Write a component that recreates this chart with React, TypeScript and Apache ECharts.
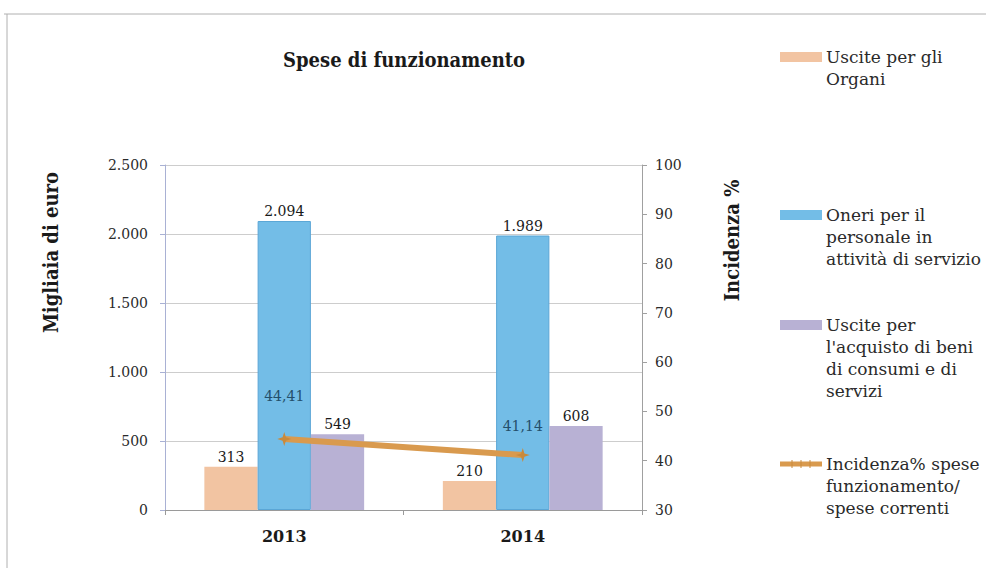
import React, { useEffect, useRef } from "react";
import * as echarts from "echarts";

const categories = ["2013", "2014"];
const uscitePerOrgani = [313, 210];
const oneriPersonale = [2094, 1989];
const usciteBeni = [549, 608];
const incidenza = [44.41, 41.14];

const seriesNames = [
  "Uscite per gli Organi",
  "Oneri per il personale in attività di servizio",
  "Uscite per l'acquisto di beni di consumi e di servizi",
  "Incidenza% spese funzionamento/ spese correnti",
];
const legendLines = [
  ["Uscite per gli", "Organi"],
  ["Oneri per il", "personale in", "attività di servizio"],
  ["Uscite per", "l'acquisto di beni", "di consumi e di", "servizi"],
  ["Incidenza% spese", "funzionamento/", "spese correnti"],
];
const legendIconY = [57, 215, 325, 464];
const seriesColors = ["#f2c4a2", "#73bde7", "#b8b1d4", "#d99a4e"];

const SERIF = "DejaVu Serif";
const COND = "DejaVu Serif Condensed";

const fmtThousands = (v: number) =>
  String(Math.round(v)).replace(/\B(?=(\d{3})+(?!\d))/g, ".");
const fmtDecimal = (v: number) => v.toFixed(2).replace(".", ",");

export default function App() {
  const ref = useRef<HTMLDivElement>(null);

  useEffect(() => {
    if (!ref.current) return;
    const chart = echarts.init(ref.current, undefined, { renderer: "svg" });

    const LH = 22;
    const legendGraphics: any[] = [];
    seriesNames.forEach((name, i) => {
      const y = legendIconY[i];
      if (i < 3) {
        legendGraphics.push({
          type: "rect",
          shape: { x: 780, y: y - 5, width: 42, height: 10 },
          style: { fill: seriesColors[i] },
        });
      } else {
        legendGraphics.push({
          type: "line",
          shape: { x1: 780, y1: y, x2: 822, y2: y },
          style: { stroke: seriesColors[i], lineWidth: 5 },
        });
        [792, 801, 810].forEach((x) =>
          legendGraphics.push({
            type: "line",
            shape: { x1: x, y1: y - 4, x2: x, y2: y + 4 },
            style: { stroke: "#c98a3c", lineWidth: 1 },
          })
        );
      }
      legendLines[i].forEach((line, k) => {
        legendGraphics.push({
          type: "text",
          x: 826,
          y: y + k * LH,
          style: {
            text: line,
            font: `17px "DejaVu Serif", serif`,
            fill: "#2a2a2a",
            verticalAlign: "middle",
            align: "left",
          },
        });
      });
    });

    const barLabel = {
      show: true,
      position: "top",
      distance: 3,
      color: "#1a1a1a",
      fontFamily: SERIF,
      fontSize: 14,
      formatter: (p: any) => fmtThousands(p.value),
    };

    const lineLabelDistances = [29, 15];

    chart.setOption({
      animation: false,
      backgroundColor: "#ffffff",
      title: {
        text: "Spese di funzionamento",
        left: 278,
        top: 45,
        textStyle: {
          fontFamily: COND,
          fontWeight: "bold",
          fontSize: 20,
          color: "#1a1a1a",
        },
      },
      grid: { left: 165, right: 348, top: 165, bottom: 58 },
      xAxis: {
        type: "category",
        data: categories,
        axisLine: { lineStyle: { color: "#9a9a9a" } },
        axisTick: { show: true, length: 5, lineStyle: { color: "#9a9a9a" } },
        axisLabel: {
          margin: 18,
          fontFamily: SERIF,
          fontWeight: "bold",
          fontSize: 16,
          color: "#1a1a1a",
        },
      },
      yAxis: [
        {
          type: "value",
          min: 0,
          max: 2500,
          interval: 500,
          name: "Migliaia di euro",
          nameLocation: "middle",
          nameRotate: 90,
          nameGap: 104,
          nameTextStyle: {
            fontFamily: COND,
            fontWeight: "bold",
            fontSize: 20,
            color: "#1a1a1a",
            padding: [0, 0, 0, 170],
          },
          axisLine: { show: true, lineStyle: { color: "#a9b1d4" } },
          axisTick: { show: true, length: 5, lineStyle: { color: "#a9b1d4" } },
          axisLabel: {
            margin: 17,
            fontFamily: SERIF,
            fontSize: 14,
            color: "#2a2a2a",
            formatter: (v: number) => fmtThousands(v),
          },
          splitLine: { show: true, lineStyle: { color: "#cdcdcd" } },
        },
        {
          type: "value",
          min: 30,
          max: 100,
          interval: 10,
          position: "right",
          name: "Incidenza %",
          nameLocation: "middle",
          nameRotate: 90,
          nameGap: 80,
          nameTextStyle: {
            fontFamily: COND,
            fontWeight: "bold",
            fontSize: 20,
            color: "#1a1a1a",
            padding: [0, 0, 0, 194],
          },
          axisLine: { show: true, lineStyle: { color: "#a0a0a0" } },
          axisTick: { show: true, length: 5, lineStyle: { color: "#a0a0a0" } },
          axisLabel: {
            margin: 13,
            fontFamily: SERIF,
            fontSize: 14,
            color: "#2a2a2a",
          },
          splitLine: { show: false },
        },
      ],
      series: [
        {
          name: seriesNames[0],
          type: "bar",
          data: uscitePerOrgani,
          barGap: "0%",
          barCategoryGap: "33%",
          itemStyle: { color: seriesColors[0] },
          label: barLabel,
        },
        {
          name: seriesNames[1],
          type: "bar",
          data: oneriPersonale,
          barGap: "0%",
          barCategoryGap: "33%",
          itemStyle: { color: seriesColors[1], borderColor: "#5aa6d6", borderWidth: 1 },
          label: barLabel,
        },
        {
          name: seriesNames[2],
          type: "bar",
          data: usciteBeni,
          barGap: "0%",
          barCategoryGap: "33%",
          itemStyle: { color: seriesColors[2] },
          label: barLabel,
        },
        {
          name: seriesNames[3],
          type: "line",
          yAxisIndex: 1,
          data: incidenza.map((v, i) => ({
            value: v,
            label: { distance: lineLabelDistances[i] },
          })),
          symbol: "path://M5,0L6.2,3.8L10,5L6.2,6.2L5,10L3.8,6.2L0,5L3.8,3.8Z",
          symbolSize: 14,
          lineStyle: { color: seriesColors[3], width: 6 },
          itemStyle: { color: "#c98a3c" },
          label: {
            show: true,
            position: "top",
            color: "#244f6b",
            fontFamily: SERIF,
            fontSize: 14,
            formatter: (p: any) => fmtDecimal(p.value),
          },
          z: 5,
        },
      ],
      graphic: [
        {
          type: "line",
          shape: { x1: 4, y1: 14, x2: 986, y2: 14 },
          style: { stroke: "#b0b0b0", lineWidth: 1 },
        },
        {
          type: "line",
          shape: { x1: 7, y1: 14, x2: 7, y2: 568 },
          style: { stroke: "#b0b0b0", lineWidth: 1 },
        },
        ...legendGraphics,
      ],
    });

    return () => chart.dispose();
  }, []);

  return (
    <div
      ref={ref}
      style={{ position: "fixed", left: 0, top: 0, width: 990, height: 568 }}
    />
  );
}
